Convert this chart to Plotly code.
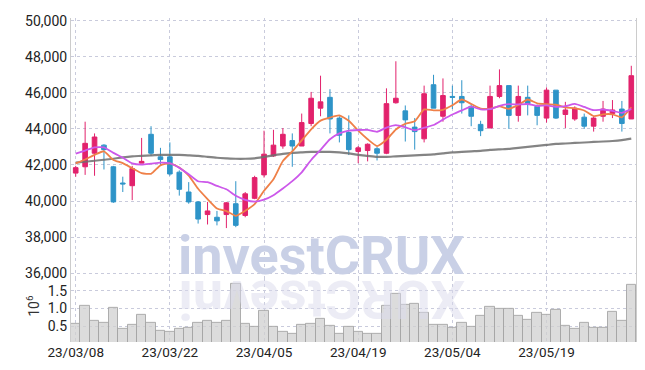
import plotly.graph_objects as go

dates = ["23/03/08","23/03/09","23/03/10","23/03/13","23/03/14","23/03/15","23/03/16","23/03/17","23/03/20","23/03/21",
         "23/03/22","23/03/23","23/03/24","23/03/27","23/03/28","23/03/29","23/03/30","23/03/31","23/04/03","23/04/04",
         "23/04/05","23/04/06","23/04/07","23/04/10","23/04/11","23/04/12","23/04/13","23/04/14","23/04/17","23/04/18",
         "23/04/19","23/04/20","23/04/21","23/04/24","23/04/25","23/04/26","23/04/27","23/04/28","23/05/02","23/05/03",
         "23/05/04","23/05/08","23/05/09","23/05/10","23/05/11","23/05/12","23/05/15","23/05/16","23/05/17","23/05/18",
         "23/05/19","23/05/22","23/05/23","23/05/24","23/05/25","23/05/26","23/05/30","23/05/31","23/06/01","23/06/02"]

open_ = [41550,41900,42650,43100,41900,41000,40850,42100,43700,42450,
         42450,41600,40500,39950,39250,39100,39250,39850,39200,40150,
         41450,42500,43050,43350,43050,44300,45150,45750,44600,43800,
         42750,42800,42900,42650,45450,45000,44100,43450,46450,44700,
         45800,45800,45250,44250,44050,45800,46400,44750,45750,45250,
         44600,46150,44800,44550,44650,44150,44700,44850,45100,44550]
high = [41950,44400,43750,43150,41950,41350,41950,43500,44150,42950,
        43250,41700,41050,40000,39950,39450,39950,41100,40500,41400,
        43900,43950,44050,43750,44850,46050,46950,46200,44700,44750,
        43050,43200,43000,46250,47750,45300,44600,46400,47000,46800,
        46400,46700,45400,44450,46400,47300,46400,46400,46400,45350,
        46300,46150,45500,45250,44850,44700,45550,45600,45550,47500]
low = [41350,41450,41400,41750,39900,40500,40050,42100,42500,41950,
       41400,40300,39850,38750,38700,38650,38500,38550,39100,40100,
       41300,42450,42900,41900,43050,44150,44700,43750,43250,42550,
       42100,42200,42250,42600,45400,43300,42850,43250,45150,44400,
       45100,44850,44150,43600,44050,45700,44000,44400,44750,44200,
       44350,44550,44050,44450,44000,43850,44400,44600,43850,44550]
close = [41850,43200,43550,42850,39950,40950,41800,42200,42650,42300,
         41500,40650,39950,39000,39450,38900,39900,38650,40400,41300,
         42600,43100,43700,43050,44350,45700,45500,44550,43650,42850,
         42950,43150,42650,45400,45700,44500,43850,45950,45150,45850,
         45750,45450,44700,43900,45800,46400,44750,45800,45400,44750,
         46150,44600,45050,45150,44150,44600,45100,45050,44300,46950]

ma5 = [42090,42300,42560,42760,42280,42100,41820,41550,41510,41980,
       42090,41860,41410,40680,40110,39590,39440,39180,39460,39830,
       40570,41210,42220,42750,43360,43980,44460,44630,44750,44450,
       43900,43430,43050,43400,43970,44280,44420,45080,45030,45060,
       45310,45630,45380,45130,45120,45250,45110,45330,45630,45420,
       45370,45340,45190,45140,45020,44710,44810,44810,44640,45200]
ma10 = [42630,42800,42980,42980,42670,42400,42090,42020,42070,42130,
        42095,41840,41480,41095,41045,40840,40650,40295,40070,39970,
        40080,40325,40700,41105,41595,42275,42835,43425,43750,43905,
        43940,43945,43840,44075,44210,44090,43925,44065,44215,44515,
        44795,45025,45230,45080,45090,45280,45370,45355,45380,45270,
        45310,45225,45260,45385,45220,45040,45075,45000,44890,45110]
ma60 = [42125,42180,42235,42290,42345,42425,42480,42505,42535,42560,
        42560,42560,42535,42505,42450,42400,42370,42345,42345,42370,
        42450,42535,42615,42670,42700,42725,42725,42725,42700,42645,
        42560,42505,42450,42450,42480,42505,42535,42560,42590,42645,
        42700,42725,42755,42780,42835,42865,42890,42945,43000,43055,
        43110,43165,43190,43220,43245,43275,43300,43330,43380,43465]

volume_millions = [0.57,1.08,0.66,0.59,1.01,0.43,0.54,0.82,0.59,0.37,
                   0.34,0.43,0.46,0.59,0.65,0.59,0.66,1.71,0.57,0.47,
                   0.94,0.49,0.34,0.29,0.55,0.57,0.71,0.52,0.29,0.49,
                   0.34,0.29,0.29,1.08,1.43,1.10,1.13,0.87,0.54,0.54,
                   0.46,0.59,0.49,0.79,1.04,0.99,0.99,0.79,0.68,0.87,
                   0.83,0.97,0.52,0.43,0.59,0.46,0.46,0.90,0.66,1.67]

date_ticks = ["23/03/08", "23/03/22", "23/04/05", "23/04/19", "23/05/04", "23/05/19"]
price_ticks = [36000, 38000, 40000, 42000, 44000, 46000, 48000, 50000]
price_tick_labels = ["36,000", "38,000", "40,000", "42,000", "44,000", "46,000", "48,000", "50,000"]
volume_ticks = [0.5, 1.0, 1.5]
volume_tick_labels = ["0.5", "1.0", "1.5"]

RED = "#e2226c"
BLUE = "#2e94c8"
GRID = "#c9cbdc"
FONT = "Roboto, Liberation Sans, sans-serif"

fig = go.Figure()

fig.add_trace(go.Bar(
    x=dates, y=volume_millions, xaxis="x", yaxis="y2",
    marker=dict(color="rgba(208,208,208,0.75)", line=dict(color="rgba(165,165,165,0.9)", width=1)),
    width=1.0, hoverinfo="skip", showlegend=False,
))

fig.add_trace(go.Candlestick(
    x=dates, open=open_, high=high, low=low, close=close, xaxis="x", yaxis="y",
    increasing=dict(line=dict(color=RED, width=1), fillcolor=RED),
    decreasing=dict(line=dict(color=BLUE, width=1), fillcolor=BLUE),
    whiskerwidth=0, showlegend=False,
))

fig.add_trace(go.Scatter(x=dates, y=ma60, mode="lines",
                         line=dict(color="rgba(110,110,110,0.85)", width=2.2, shape="spline", smoothing=0.6),
                         showlegend=False))
fig.add_trace(go.Scatter(x=dates, y=ma5, mode="lines",
                         line=dict(color="#ef8048", width=1.8, shape="spline", smoothing=0.5),
                         showlegend=False))
fig.add_trace(go.Scatter(x=dates, y=ma10, mode="lines",
                         line=dict(color="#cc58ea", width=1.8, shape="spline", smoothing=0.5),
                         showlegend=False))

fig.update_layout(
    width=645, height=370,
    margin=dict(l=63, r=17, t=5, b=36),
    paper_bgcolor="white", plot_bgcolor="white",
    font=dict(family=FONT, size=14, color="#222"),
    showlegend=False,
    xaxis=dict(type="category", categoryorder="array", categoryarray=dates,
               range=[-0.5, 59.5], showgrid=True, gridcolor=GRID, griddash="dot", gridwidth=1,
               tickmode="array", tickvals=date_ticks, ticktext=date_ticks, zeroline=False,
               rangeslider=dict(visible=False), ticks="", showline=False,
               domain=[0, 1], anchor="y2", tickfont=dict(family=FONT, size=13.5, color="#222")),
    yaxis=dict(domain=[0.198, 1], range=[35740, 50150], tickmode="array", anchor="x",
               tickvals=price_ticks, ticktext=price_tick_labels, ticklabeloverflow="allow",
               showgrid=True, gridcolor=GRID, griddash="dot", zeroline=False,
               showline=True, linecolor="#cccccc", mirror=True, ticks="",
               tickfont=dict(family=FONT, size=14, color="#222")),
    yaxis2=dict(domain=[0, 0.198], range=[0.05, 1.87], tickmode="array", anchor="x",
                tickvals=volume_ticks, ticktext=volume_tick_labels, ticklabeloverflow="allow",
                showgrid=True, gridcolor=GRID, griddash="dot", zeroline=False,
                showline=True, linecolor="#cccccc", mirror=True, ticks="",
                tickfont=dict(family=FONT, size=14, color="#222")),
    bargap=0,
)

fig.add_annotation(text="investCRUX", xref="paper", yref="paper", x=0.4434, y=0.2655,
                   showarrow=False, font=dict(family="Roboto, Lato, sans-serif", size=54, color="#c9d0e6", weight="bold"),
                   xanchor="center", yanchor="middle")
fig.add_annotation(text="XURCtsevni", xref="paper", yref="paper", x=0.4434, y=0.133, textangle=180,
                   showarrow=False, font=dict(family="Roboto, Lato, sans-serif", size=54, color="rgba(218,218,235,0.5)", weight="bold"),
                   xanchor="center", yanchor="middle")
fig.add_annotation(text="10<sup>6</sup>", xref="paper", yref="paper", x=-0.067, y=0.112, textangle=-90,
                   showarrow=False, font=dict(family=FONT, size=14, color="#333"),
                   xanchor="center", yanchor="middle")

fig.write_html("out.html")
